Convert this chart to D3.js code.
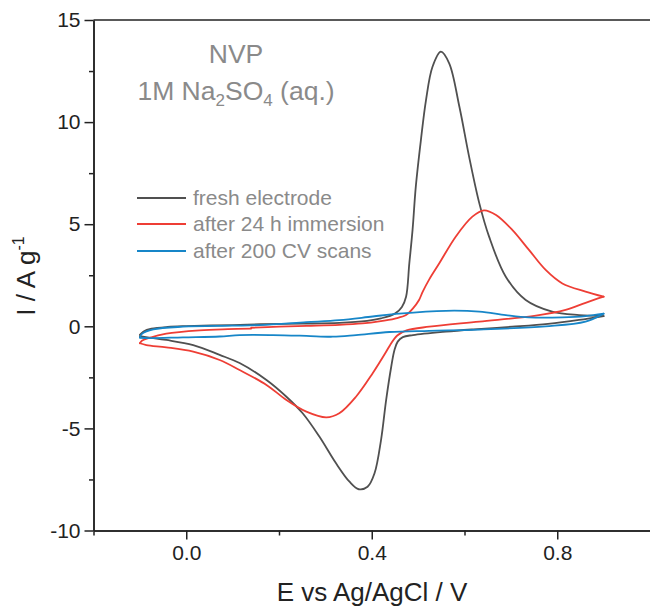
<!DOCTYPE html>
<html><head><meta charset="utf-8">
<script src="https://cdn.jsdelivr.net/npm/d3@7"></script>
<style>body{margin:0;background:#fff}svg{display:block}text{font-family:"Liberation Sans",Arial,sans-serif}</style>
</head><body><svg id="c" width="650" height="608"></svg>
<script>
const xTicks=[0.0,0.4,0.8];
const xMinor=[-0.2,0.2,0.6];
const yTicks=[-10,-5,0,5,10,15];
const yMinor=[-7.5,-2.5,2.5,7.5,12.5];
const seriesNames=["fresh electrode","after 24 h immersion","after 200 CV scans"];

const freshE=[-0.100,-0.092,-0.075,-0.040,0.000,0.100,0.160,0.250,0.330,0.390,0.420,0.450,0.465,0.474,0.481,0.488,0.495,0.506,0.517,0.531,0.549,0.567,0.589,0.610,0.632,0.653,0.689,0.732,0.789,0.847,0.900,
 0.847,0.780,0.703,0.620,0.560,0.489,0.467,0.456,0.449,0.442,0.431,0.420,0.406,0.391,0.372,0.352,0.323,0.287,0.251,0.216,0.173,0.115,0.072,0.015,-0.043,-0.080,-0.100];
const freshI=[-0.42,-0.25,-0.12,-0.03,0.01,0.06,0.10,0.13,0.17,0.27,0.39,0.62,0.95,1.45,3.08,4.72,6.84,9.12,11.08,12.71,13.45,12.88,10.75,8.30,6.02,4.39,2.43,1.29,0.72,0.55,0.50,
 0.31,0.12,-0.02,-0.15,-0.26,-0.43,-0.53,-0.75,-1.16,-1.98,-3.61,-5.57,-7.20,-7.86,-7.98,-7.61,-6.71,-5.40,-4.26,-3.45,-2.63,-1.80,-1.40,-0.92,-0.67,-0.55,-0.48];

const soakE=[0.140,0.200,0.260,0.330,0.380,0.416,0.450,0.474,0.488,0.502,0.510,0.524,0.546,0.581,0.617,0.642,0.668,0.703,0.739,0.775,0.811,0.861,0.900,
 0.861,0.818,0.754,0.632,0.524,0.475,0.455,0.440,0.431,0.402,0.366,0.330,0.302,0.259,0.216,0.173,0.115,0.072,0.015,-0.043,-0.086,-0.100,
 -0.095,-0.079,-0.043,0.029,0.090,0.140];
const soakI=[-0.07,-0.02,0.02,0.07,0.14,0.24,0.38,0.55,0.85,1.29,1.70,2.30,3.10,4.39,5.37,5.68,5.45,4.72,3.74,2.76,2.10,1.70,1.45,
 1.15,0.80,0.52,0.23,-0.02,-0.20,-0.45,-0.90,-1.25,-2.30,-3.45,-4.26,-4.46,-4.18,-3.61,-2.87,-2.14,-1.65,-1.24,-1.03,-0.92,-0.83,
 -0.70,-0.56,-0.36,-0.20,-0.14,-0.11];

const scanE=[-0.100,-0.095,-0.071,-0.007,0.100,0.158,0.259,0.330,0.402,0.459,0.560,0.632,0.689,0.739,0.811,0.861,0.900,
 0.861,0.775,0.632,0.524,0.438,0.366,0.316,0.259,0.187,0.115,0.072,-0.007,-0.079,-0.100];
const scanI=[-0.54,-0.36,-0.15,-0.02,0.03,0.06,0.20,0.30,0.48,0.62,0.76,0.72,0.55,0.44,0.44,0.50,0.62,
 0.23,0.00,-0.16,-0.22,-0.28,-0.43,-0.51,-0.47,-0.43,-0.43,-0.50,-0.54,-0.58,-0.56];

const colors=["#505050","#ee3e35","#1786c8"];

const svg=d3.select("#c");
const x=d3.scaleLinear().domain([-0.2,1.0]).range([93.5,650]);
const y=d3.scaleLinear().domain([-10,15]).range([530.5,20]);

function branches(E,I){
  const pts=E.map((e,i)=>[e,I[i]]);const out=[];let cur=[pts[0]];
  for(let i=1;i<pts.length;i++){
    cur.push(pts[i]);
    if(i<pts.length-1){const d1=pts[i][0]-pts[i-1][0],d2=pts[i+1][0]-pts[i][0];if(d1*d2<0){out.push(cur);cur=[pts[i]];}}
  }
  out.push(cur);return out;
}
const line=d3.line().x(d=>x(d[0])).y(d=>y(d[1])).curve(d3.curveCatmullRom.alpha(0.5));
const data=[[freshE,freshI],[soakE,soakI],[scanE,scanI]];
data.forEach(([E,I],k)=>{
  branches(E,I).forEach(b=>{
    svg.append("path").attr("d",line(b)).attr("fill","none").attr("stroke",colors[k])
      .attr("stroke-width",1.8).attr("stroke-linecap","round").attr("stroke-linejoin","round");
  });
});

const axCol="#222";
const gy=svg.append("g").attr("transform","translate(93.5,0)")
  .call(d3.axisLeft(y).tickValues(yTicks).tickSize(9).tickSizeOuter(0).tickPadding(4).tickFormat(d=>String(d)));
const gym=svg.append("g").attr("transform","translate(93.5,0)")
  .call(d3.axisLeft(y).tickValues(yMinor).tickSize(4.5).tickSizeOuter(0).tickFormat(""));
const gx=svg.append("g").attr("transform","translate(0,530.5)")
  .call(d3.axisBottom(x).tickValues(xTicks).tickSize(9).tickSizeOuter(0).tickPadding(6).tickFormat(d=>d.toFixed(1)));
const gxm=svg.append("g").attr("transform","translate(0,530.5)")
  .call(d3.axisBottom(x).tickValues(xMinor).tickSize(5).tickSizeOuter(0).tickFormat(""));
[gy,gym,gx,gxm].forEach(g=>{
  g.selectAll("path,line").attr("stroke",axCol).attr("stroke-width",1.5);
  g.selectAll("text").attr("font-size",21).attr("fill",axCol).attr("font-family",'"Liberation Sans",Arial,sans-serif');
});
svg.append("line").attr("x1",93.5).attr("x2",650).attr("y1",y(15)).attr("y2",y(15)).attr("stroke",axCol).attr("stroke-width",1.5);

svg.append("text").attr("x",372).attr("y",601).attr("text-anchor","middle").attr("font-size",26).attr("fill",axCol)
  .text("E vs Ag/AgCl / V");
const yt=svg.append("text").attr("transform","translate(35,276) rotate(-90)").attr("text-anchor","middle")
  .attr("font-size",26).attr("fill",axCol);
yt.append("tspan").text("I / A g");
yt.append("tspan").attr("font-size",16).attr("dy",-11).text("-1");

const annCol="#8a8a8a";
svg.append("text").attr("x",236).attr("y",63).attr("text-anchor","middle").attr("font-size",26.5).attr("fill",annCol).text("NVP");
const a2=svg.append("text").attr("x",236).attr("y",100).attr("text-anchor","middle").attr("font-size",26.5).attr("fill",annCol);
a2.append("tspan").text("1M Na");
a2.append("tspan").attr("font-size",17).attr("dy",6).text("2");
a2.append("tspan").attr("dy",-6).text("SO");
a2.append("tspan").attr("font-size",17).attr("dy",6).text("4");
a2.append("tspan").attr("dy",-6).text(" (aq.)");

const legY=[198,224,251];
seriesNames.forEach((n,k)=>{
  svg.append("line").attr("x1",137).attr("x2",186).attr("y1",legY[k]).attr("y2",legY[k]).attr("stroke",colors[k]).attr("stroke-width",1.8);
  svg.append("text").attr("x",193).attr("y",legY[k]).attr("dy","0.35em").attr("font-size",21).attr("fill","#8a8a8a").text(n);
});
</script></body></html>
